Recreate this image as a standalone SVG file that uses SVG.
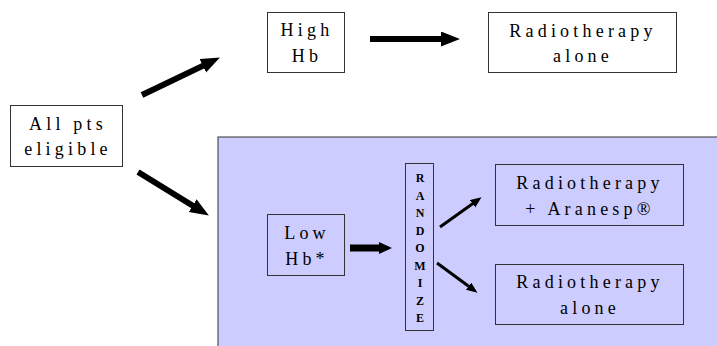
<svg xmlns="http://www.w3.org/2000/svg" width="717" height="346" viewBox="0 0 717 346">
<style>
.box{fill:#ffffff;stroke:#333333;stroke-width:1}
.ibox{fill:#ccccff;stroke:#333333;stroke-width:1}
.t{font-size:18px;letter-spacing:4.2px;fill:#000;text-anchor:middle}
.r{font-size:12px;font-weight:bold;fill:#000;text-anchor:middle}
.a{stroke:#000;fill:none}
</style>
<defs>
<marker id="hL" markerUnits="userSpaceOnUse" markerWidth="20" markerHeight="16" refX="4" refY="7.5" orient="auto"><path d="M0,0 L19,7.5 L0,15 z" fill="#000"/></marker>
<marker id="hM" markerUnits="userSpaceOnUse" markerWidth="14" markerHeight="12" refX="3" refY="6" orient="auto"><path d="M0,0 L13,6 L0,12 z" fill="#000"/></marker>
<marker id="hS" markerUnits="userSpaceOnUse" markerWidth="12" markerHeight="10" refX="3" refY="4.5" orient="auto"><path d="M0,0 L11,4.5 L0,9 z" fill="#000"/></marker>
</defs>
<rect x="218" y="137" width="500" height="210" fill="#ccccff" stroke="#333333" stroke-width="1"/>
<g font-family="Liberation Serif, serif">
<g id="all">
<rect class="box" x="10.5" y="105.5" width="112" height="61"/>
<text class="t" x="68" y="130">All pts</text>
<text class="t" x="68" y="155">eligible</text>
</g>
<g id="high">
<rect class="box" x="267.5" y="12.5" width="77" height="60"/>
<text class="t" x="307" y="36">High</text>
<text class="t" x="307" y="62">Hb</text>
</g>
<g id="rt1">
<rect class="box" x="488.5" y="12.5" width="188" height="60"/>
<text class="t" x="583" y="37">Radiotherapy</text>
<text class="t" x="583" y="62">alone</text>
</g>
<g id="low">
<rect class="ibox" x="267.5" y="214.5" width="77" height="61"/>
<text class="t" x="307" y="239">Low</text>
<text class="t" x="307" y="265">Hb*</text>
</g>
<g id="rand">
<rect class="ibox" x="405.5" y="163.5" width="28" height="167"/>
<text class="r" x="420" y="182">R</text>
<text class="r" x="420" y="199.5">A</text>
<text class="r" x="420" y="217">N</text>
<text class="r" x="420" y="234.5">D</text>
<text class="r" x="420" y="252">O</text>
<text class="r" x="420" y="269.5">M</text>
<text class="r" x="420" y="287">I</text>
<text class="r" x="420" y="304.5">Z</text>
<text class="r" x="420" y="322">E</text>
</g>
<g id="rtA">
<rect class="ibox" x="495.5" y="164.5" width="188" height="61"/>
<text class="t" x="590" y="189">Radiotherapy</text>
<text class="t" x="590" y="215">+ Aranesp®</text>
</g>
<g id="rt2">
<rect class="ibox" x="495.5" y="264.5" width="188" height="60"/>
<text class="t" x="590" y="288">Radiotherapy</text>
<text class="t" x="590" y="314">alone</text>
</g>
</g>
<g id="connectors">
<line class="a" x1="142" y1="95" x2="206.4" y2="64.1" stroke-width="6" marker-end="url(#hL)"/>
<line class="a" x1="138" y1="172" x2="196.1" y2="207.7" stroke-width="6" marker-end="url(#hL)"/>
<line class="a" x1="370" y1="39" x2="445" y2="39" stroke-width="6" marker-end="url(#hL)"/>
<line class="a" x1="350" y1="248" x2="382" y2="248" stroke-width="7" marker-end="url(#hM)"/>
<line class="a" x1="440" y1="227" x2="475" y2="202" stroke-width="3" marker-end="url(#hS)"/>
<line class="a" x1="437" y1="263" x2="471" y2="288" stroke-width="3" marker-end="url(#hS)"/>
</g>
</svg>
